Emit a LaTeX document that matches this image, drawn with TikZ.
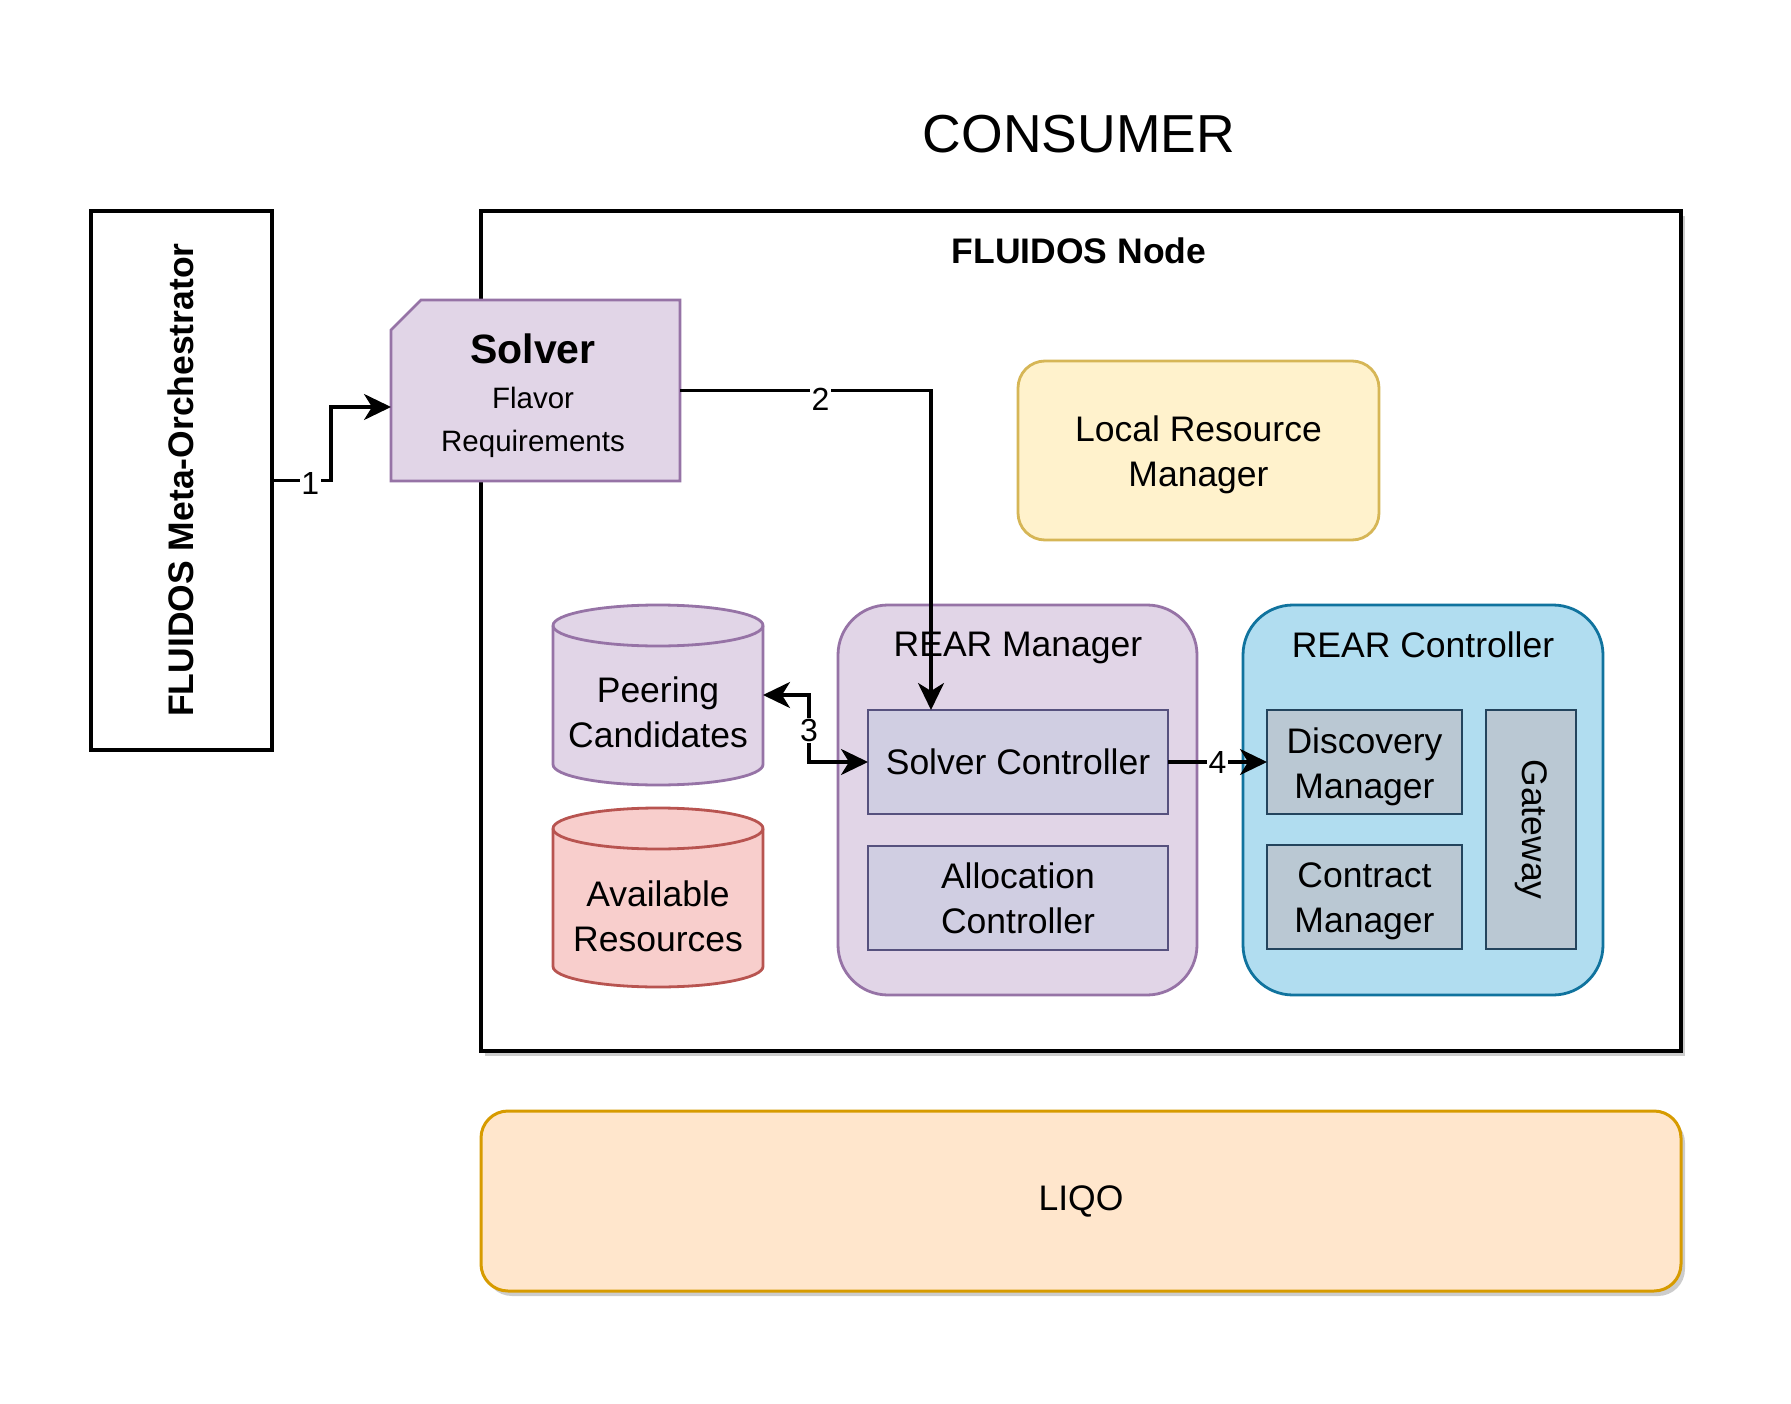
\documentclass[tikz,border=0pt]{standalone}
\usepackage{fontspec}
\setmainfont{Liberation Sans}
\usetikzlibrary{arrows.meta,calc,shadows}
\definecolor{purpF}{HTML}{E1D5E7}
\definecolor{purpS}{HTML}{9673A6}
\definecolor{lavF}{HTML}{D0CEE2}
\definecolor{lavS}{HTML}{56517E}
\definecolor{yelF}{HTML}{FFF2CC}
\definecolor{yelS}{HTML}{D6B656}
\definecolor{redF}{HTML}{F8CECC}
\definecolor{redS}{HTML}{B85450}
\definecolor{bluF}{HTML}{B1DDF0}
\definecolor{bluS}{HTML}{10739E}
\definecolor{gryF}{HTML}{BAC8D3}
\definecolor{gryS}{HTML}{23445D}
\definecolor{orgF}{HTML}{FFE6CC}
\definecolor{orgS}{HTML}{D79B00}
\tikzset{
  every node/.style={inner sep=0pt, outer sep=0pt},
  wh/.style 2 args={minimum width=#1pt, minimum height=#2pt},
  txt/.style={align=center, font=\fontsize{35.5}{45}\selectfont},
  btxt/.style={align=center, font=\bfseries\fontsize{35.5}{45}\selectfont},
  smalltxt/.style={align=center, font=\fontsize{29.5}{36}\selectfont},
  blackbox/.style={draw=black, line width=3.2pt, fill=white},
  purplebox/.style={draw=purpS, fill=purpF, line width=2.8pt},
  lavbox/.style={draw=lavS, fill=lavF, line width=2.8pt},
  yelbox/.style={draw=yelS, fill=yelF, line width=2.8pt},
  redbox/.style={draw=redS, fill=redF, line width=2.8pt},
  blubox/.style={draw=bluS, fill=bluF, line width=2.8pt},
  grybox/.style={draw=gryS, fill=gryF, line width=2.8pt},
  orgbox/.style={draw=orgS, fill=orgF, line width=3pt},
  shade/.style={drop shadow={shadow xshift=4pt, shadow yshift=-5pt, fill=black, opacity=0.2}},
  tip/.tip={Stealth[length=27pt, width=26pt, inset=8pt]},
  conn/.style={line width=3.2pt, -tip},
  conn2/.style={line width=3.2pt, tip-tip},
  lbl/.style={fill=white, font=\fontsize{32}{38}\selectfont, inner sep=1.5pt},
}
\newcommand\drawcyl[2]{%
  \draw[#2] ($(#1.north west)+(0,20.5)$) -- ($(#1.south west)+(0,-20.5)$)
    arc[start angle=180, end angle=360, x radius=105pt, y radius=20.5pt]
    -- ($(#1.north east)+(0,20.5)$)
    arc[start angle=0, end angle=180, x radius=105pt, y radius=20.5pt] -- cycle;
  \draw[#2, fill=none] ($(#1.north west)+(0,20.5)$)
    arc[start angle=180, end angle=360, x radius=105pt, y radius=20.5pt];
}
\begin{document}
\begin{tikzpicture}[x=1pt, y=-1pt]
\useasboundingbox[fill=white] (0,0) rectangle (1791,1404);

% title
\node[txt, font=\fontsize{53.5}{64}\selectfont] (consumer) at (1079,134) {CONSUMER};

% FLUIDOS node container
\node[blackbox, shade, wh={1200}{840}] (fnode) at (1081,631) {};
\node[btxt] (fnodet) at (1079,251) {FLUIDOS Node};

% Meta-orchestrator
\node[blackbox, wh={181}{539}] (meta) at (181.5,480.5) {};
\node[btxt, rotate=90] (metat) at (181,480) {FLUIDOS Meta-Orchestrator};

% Solver (card shape)
\node[wh={289}{181}] (solver) at (535.5,390.5) {};
\draw[purplebox] ($(solver.north west)+(30,0)$) -- (solver.north east) -- (solver.south east)
  -- (solver.south west) -- ($(solver.north west)+(0,30)$) -- cycle;
\node[align=center, font=\bfseries\fontsize{41}{49}\selectfont] (solvert) at (533,349) {Solver};
\node[smalltxt] (flav) at (533,398) {Flavor};
\node[smalltxt] (req) at (533,443.5) {Requirements};

% Local Resource Manager
\node[yelbox, rounded corners=27pt, wh={361}{179}] (lrm) at (1198.5,450.5) {};
\node[txt] (lrmt) at (1198.5,455) {Local Resource\\Manager};

% Cylinders
\node[wh={210}{180}] (peer) at (658,695) {};
\drawcyl{peer}{purplebox}
\node[txt] (peert) at (658,712) {Peering\\Candidates};
\node[wh={210}{179}] (avail) at (658,897.5) {};
\drawcyl{avail}{redbox}
\node[txt] (availt) at (658,916) {Available\\Resources};

% REAR Manager
\node[purplebox, rounded corners=50pt, wh={359}{390}] (rearm) at (1017.5,800) {};
\node[txt] (rearmt) at (1018,648) {REAR Manager};
\node[lavbox, txt, wh={300}{104}] (solverc) at (1018,762) {Solver Controller};
\node[lavbox, txt, wh={300}{104}] (allocc) at (1018,898) {Allocation\\Controller};

% REAR Controller
\node[blubox, rounded corners=50pt, wh={360}{390}] (rearc) at (1423,800) {};
\node[txt] (rearct) at (1423,645) {REAR Controller};
\node[grybox, wh={195}{104}] (disc) at (1364.5,762) {};
\node[txt] (disct) at (1364.5,766.5) {Discovery\\Manager};
\node[grybox, wh={195}{104}] (contract) at (1364.5,897) {};
\node[txt] (contractt) at (1364.5,901.5) {Contract\\Manager};
\node[grybox, wh={90}{239}] (gateway) at (1531,829.5) {};
\node[txt, rotate=-90] (gatewayt) at (1531,829.5) {Gateway};

% LIQO
\node[orgbox, shade, txt, rounded corners=27pt, wh={1200}{180}] (liqo) at (1081,1201) {LIQO};

% connectors
\draw[conn] (meta.east) -- node[lbl, pos=0.65, yshift=-3pt] {1} ++(59,0) |- ($(solver.west)+(0,16.5)$);
\coordinate (c2) at ($(solverc.north)+(-87,0)$);
\draw[conn] (solver.east) -- node[lbl, pos=0.56, yshift=-9pt] {2} (solver.east -| c2) -- (c2);
\coordinate (c3a) at ($(peer.east)+(46,0)$);
\draw[conn2] (peer.east) -- (c3a) -- node[lbl, pos=0.53] {3} (c3a |- solverc.west) -- (solverc.west);
\draw[conn] (solverc.east) -- node[lbl] {4} (disc.west);
\end{tikzpicture}
\end{document}
